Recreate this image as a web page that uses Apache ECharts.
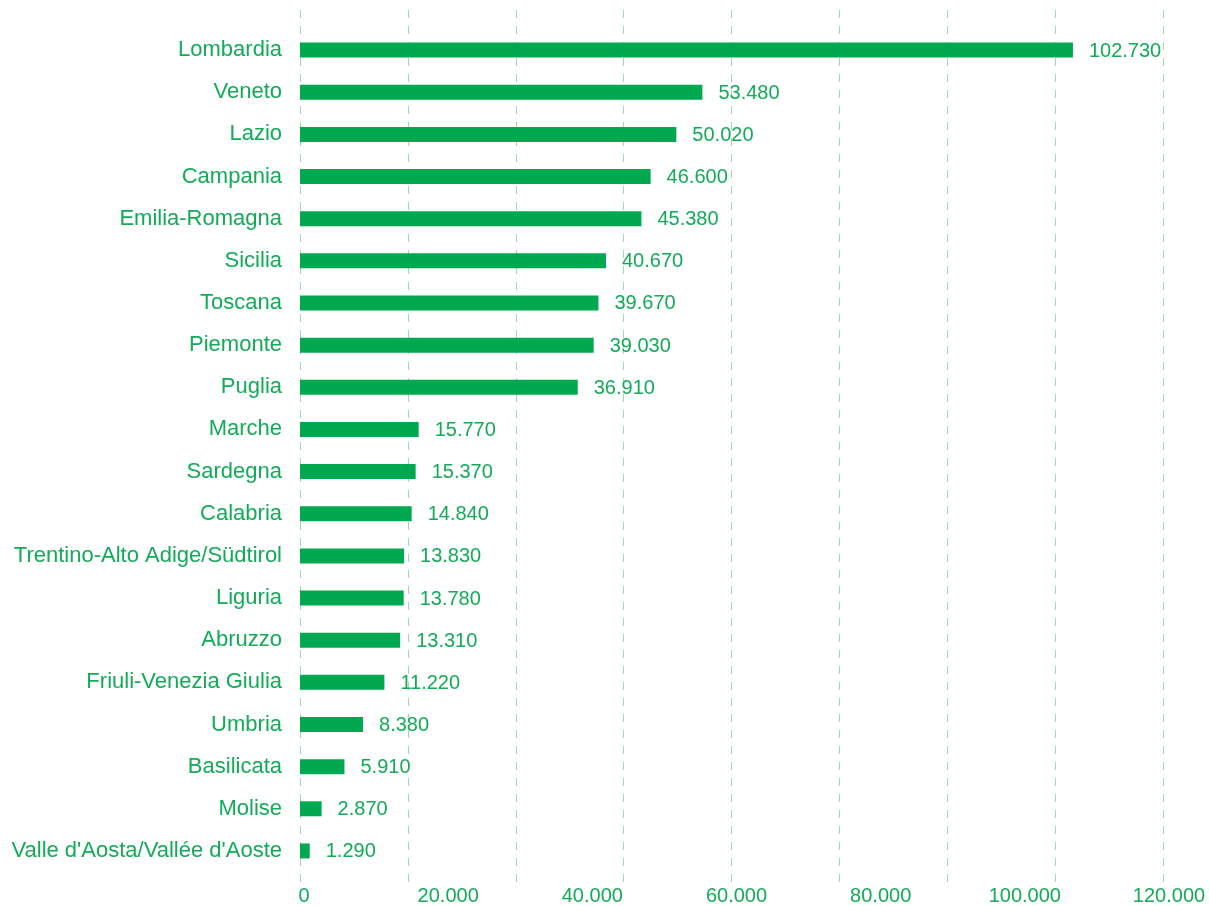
<!DOCTYPE html>
<html>
<head>
<meta charset="utf-8">
<script src="https://cdn.jsdelivr.net/npm/echarts@6/dist/echarts.min.js"></script>
<style>
  html, body { margin: 0; padding: 0; background: #ffffff; }
  #chart { width: 1209px; height: 906px; }
</style>
</head>
<body>
<div id="chart"></div>
<script>
// Regions, listed from top to bottom
const regions = [
  'Lombardia', 'Veneto', 'Lazio', 'Campania', 'Emilia-Romagna', 'Sicilia',
  'Toscana', 'Piemonte', 'Puglia', 'Marche', 'Sardegna', 'Calabria',
  'Trentino-Alto Adige/Südtirol', 'Liguria', 'Abruzzo', 'Friuli-Venezia Giulia',
  'Umbria', 'Basilicata', 'Molise', "Valle d'Aosta/Vallée d'Aoste"
];
const values = [
  102730, 53480, 50020, 46600, 45380, 40670,
  39670, 39030, 36910, 15770, 15370, 14840,
  13830, 13780, 13310, 11220,
  8380, 5910, 2870, 1290
];
// Labelled ticks of the value scale
const tickValues = [0, 20000, 40000, 60000, 80000, 100000, 120000];

const GREEN = '#00a94f';
const TEXT_GREEN = '#12ab57';
const GRID_GREEN = '#9cdbae';
const FONT = 'Liberation Sans, Arial, sans-serif';

// Bar scale end and number of dashed guide lines across it
const barMax = 114700;
const guideCount = 8;

function fmt(v) {
  return String(Math.round(v)).replace(/\B(?=(\d{3})+(?!\d))/g, '.');
}

const chart = echarts.init(document.getElementById('chart'), null, { renderer: 'canvas' });

chart.setOption({
  animation: false,
  backgroundColor: '#ffffff',
  textStyle: { fontFamily: FONT },
  grid: [
    { left: 300, width: 863, top: 29, height: 843, containLabel: false },
    { left: 300, width: 863, top: 10, height: 872, containLabel: false },
    { left: 304, width: 865, top: 10, height: 872, containLabel: false }
  ],
  xAxis: [
    {
      gridIndex: 0, type: 'value', min: 0, max: barMax,
      show: false
    },
    {
      gridIndex: 1, type: 'value', min: 0, max: barMax,
      interval: barMax / guideCount,
      axisLine: { show: false }, axisTick: { show: false }, axisLabel: { show: false },
      splitLine: { show: true, lineStyle: { color: GRID_GREEN, width: 1, type: [8, 8] } }
    },
    {
      gridIndex: 2, type: 'value',
      min: tickValues[0], max: tickValues[tickValues.length - 1],
      interval: tickValues[1] - tickValues[0],
      axisLine: { show: false }, axisTick: { show: false },
      splitLine: { show: false },
      axisLabel: {
        show: true, margin: 7, color: TEXT_GREEN, fontSize: 20, fontFamily: FONT,
        formatter: v => fmt(v)
      }
    }
  ],
  yAxis: [
    {
      gridIndex: 0, type: 'category', data: regions, inverse: true,
      axisLine: { show: false }, axisTick: { show: false }, splitLine: { show: false },
      axisLabel: {
        margin: 18, color: TEXT_GREEN, fontSize: 22, fontFamily: FONT,
        padding: [3, 0, 0, 0]
      }
    },
    { gridIndex: 1, type: 'value', show: false },
    { gridIndex: 2, type: 'value', show: false }
  ],
  series: [
    {
      type: 'bar',
      xAxisIndex: 0, yAxisIndex: 0,
      data: values,
      barWidth: 15,
      itemStyle: { color: GREEN },
      label: {
        show: true, position: 'right', distance: 16, offset: [0, 1],
        color: TEXT_GREEN, fontSize: 20, fontFamily: FONT,
        formatter: p => fmt(p.value)
      }
    }
  ]
});
</script>
</body>
</html>
